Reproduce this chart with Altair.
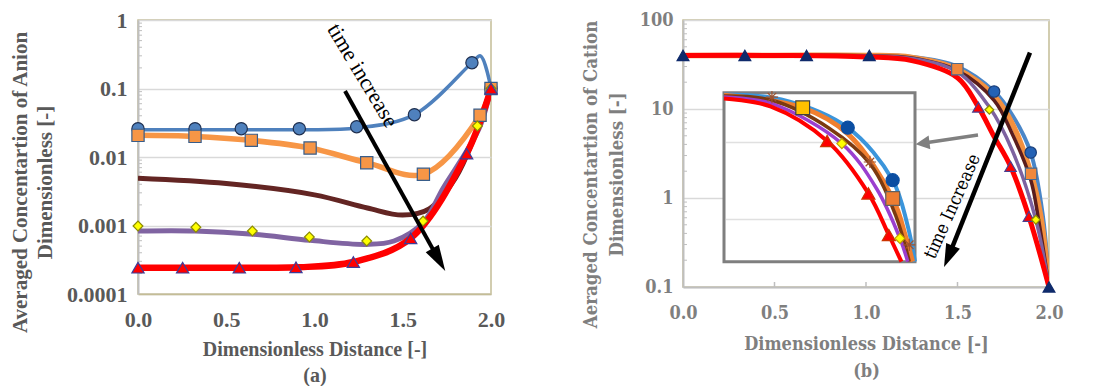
import altair as alt
import pandas as pd

# ---------------- Panel (a): anion ----------------
A_XTICKS = [0, 0.5, 1.0, 1.5, 2.0]
A_YTICKS = [0.0001, 0.001, 0.01, 0.1, 1]

A_BLUE_LINE_X = [0, 0.323, 0.585, 0.914, 1.239, 1.566, 1.892, 1.94, 2.0]
A_BLUE_LINE_Y = [0.025, 0.025, 0.025, 0.025, 0.0265, 0.0415, 0.238, 0.30, 0.1]
A_BLUE_PTS_X = [0, 0.323, 0.585, 0.914, 1.239, 1.566, 1.892, 2.0]
A_BLUE_PTS_Y = [0.0259, 0.0259, 0.0259, 0.0259, 0.0277, 0.0415, 0.238, 0.1]

A_ORANGE_X = [0, 0.323, 0.642, 0.975, 1.296, 1.617, 1.938, 2.0]
A_ORANGE_Y = [0.0207, 0.020, 0.0175, 0.0135, 0.00826, 0.00559, 0.0406, 0.1]

A_BROWN_X = [0, 0.5, 1.0, 1.3, 1.5, 1.65, 1.8, 1.9, 2.0]
A_BROWN_Y = [0.0049, 0.0041, 0.0028, 0.0018, 0.00142, 0.00175, 0.0050, 0.018, 0.1]

A_PURPLE_X = [0, 0.323, 0.655, 0.975, 1.296, 1.45, 1.615, 1.73, 1.862, 1.938, 2.0]
A_PURPLE_Y = [0.00083, 0.00083, 0.000744, 0.000607, 0.00053, 0.000594, 0.0011, 0.00356, 0.0122, 0.028, 0.1]

A_DIAMOND_X = [0, 0.328, 0.648, 0.971, 1.296, 1.615, 1.923, 2.0]
A_DIAMOND_Y = [0.000984, 0.000942, 0.00083, 0.000679, 0.000594, 0.00116, 0.0284, 0.1]

A_RED_X = [0, 0.253, 0.574, 0.895, 1.22, 1.545, 1.862, 2.0]
A_RED_Y = [0.000242, 0.000242, 0.000242, 0.000245, 0.000293, 0.00065, 0.0112, 0.1]

A_ARROW = {"x": [1.173], "y": [0.092], "x2": [1.704], "y2": [0.000316]}
A_LABEL = {"x": [1.273], "y": [0.155]}

# ---------------- Panel (b): cation ----------------
B_XTICKS = [0, 0.5, 1.0, 1.5, 2.0]
B_YTICKS = [0.1, 1, 10, 100]

B_BLUE_X = [0, 0.5, 1.0, 1.25, 1.5, 1.70, 1.8, 1.90, 1.967, 2.0]
B_BLUE_Y = [40, 40, 40, 38.5, 30, 15.7, 8.5, 3.24, 0.62, 0.1]
B_ORANGE_X = [0, 0.5, 1.0, 1.25, 1.499, 1.7, 1.8, 1.902, 1.955, 2.0]
B_ORANGE_Y = [40, 40, 40, 38, 28, 14, 6.8, 1.87, 0.62, 0.1]
B_BROWN_X = [0, 0.5, 1.0, 1.25, 1.5, 1.7, 1.8, 1.9, 1.94, 2.0]
B_BROWN_Y = [40, 40, 39.7, 37.5, 27, 12.5, 5.2, 1.6, 0.62, 0.1]
B_PURPLE_X = [0, 0.5, 1.0, 1.25, 1.5, 1.674, 1.8, 1.928, 2.0]
B_PURPLE_Y = [40, 40, 39.5, 37, 26, 10.5, 3.4, 0.57, 0.1]
B_RED_X = [0, 0.5, 1.0, 1.25, 1.5, 1.614, 1.7, 1.79, 1.89, 2.0]
B_RED_Y = [40, 40, 38.5, 35, 22.5, 10.5, 4.9, 2.26, 0.62, 0.1]

B_NAVY_TRI_X = [0, 0.338, 0.675, 1.018, 2.0]
B_NAVY_TRI_Y = [40, 40, 40, 40, 0.1]
B_SQUARE_X = [1.499, 1.902]
B_SQUARE_Y = [28, 1.87]
B_CIRCLE_X = [1.70, 1.90]
B_CIRCLE_Y = [15.7, 3.24]
B_RED_TRI_X = [1.614, 1.79, 1.89]
B_RED_TRI_Y = [10.5, 2.26, 0.62]
B_DIAMOND_X = [1.674, 1.928]
B_DIAMOND_Y = [9.8, 0.57]

B_ARROW = {"x": [1.896], "y": [43.0], "x2": [1.451], "y2": [0.220]}
B_GRAY_ARROW = {"x": [1.612], "y": [5.1], "x2": [1.309], "y2": [4.12]}
B_LABEL = {"x": [1.475], "y": [0.80]}

# inset (normalised coordinates inside the zoom box)
IN_BLUE_U = [0, 0.3, 0.648, 0.883, 0.96, 1.0]
IN_BLUE_V = [0.99, 0.96, 0.793, 0.482, 0.22, 0]
IN_ORANGE_U = [0, 0.412, 0.65, 0.883, 0.95, 0.987]
IN_ORANGE_V = [0.985, 0.911, 0.755, 0.374, 0.15, 0]
IN_BROWN_U = [0, 0.251, 0.55, 0.764, 0.90, 0.970]
IN_BROWN_V = [0.98, 0.955, 0.79, 0.58, 0.27, 0]
IN_PURPLE_U = [0, 0.25, 0.617, 0.80, 0.921, 0.962]
IN_PURPLE_V = [0.975, 0.935, 0.699, 0.43, 0.138, 0]
IN_RED_U = [0, 0.243, 0.54, 0.756, 0.863, 0.929]
IN_RED_V = [0.965, 0.919, 0.714, 0.404, 0.158, 0]
IN_GOLD_SQ = {"x": [0.412], "y": [0.911]}
IN_ORANGE_SQ = {"x": [0.883], "y": [0.374]}
IN_CIRCLES = {"x": [0.648, 0.883], "y": [0.793, 0.482]}
IN_TRIS = {"x": [0.54, 0.756, 0.863], "y": [0.714, 0.404, 0.158]}
IN_DIAMONDS = {"x": [0.617, 0.921], "y": [0.699, 0.138]}
IN_STARS = {"x": [0.251, 0.764, 0.97], "y": [0.974, 0.59, 0.1]}
IN_GRID_V = [0.25, 0.705]

FONT_A = "Liberation Serif"
FONT_B = "DejaVu Serif Condensed, DejaVu Serif"
GRAY_A = "#595959"
GRAY_B = "#7f7f7f"

ASTERISK = "M-1,0L1,0M0,-1L0,1M-0.7,-0.7L0.7,0.7M-0.7,0.7L0.7,-0.7"

A_W, A_H = 353, 274
B_W, B_H = 366, 267


def xy(xs, ys):
    return pd.DataFrame({"x": xs, "y": ys})


# ---------- panel a ----------
a_xs = alt.Scale(domain=[0, 2], nice=False, zero=False)
a_ys = alt.Scale(type="log", domain=[1e-4, 1], nice=False)
a_xa = alt.Axis(values=A_XTICKS, format=".1f", labelFlush=False, ticks=False, grid=False,
                domainColor="#c4bd97", domainWidth=1.5, labelFont=FONT_A, labelFontSize=22,
                labelFontWeight="bold", labelColor=GRAY_A, labelPadding=15,
                title=["Dimensionless Distance [-]", "(a)"], titleFont=FONT_A, titleFontSize=20,
                titleFontWeight="bold", titleColor=GRAY_A, titlePadding=9, titleLineHeight=26)
a_ya = alt.Axis(values=A_YTICKS, format="~g", ticks=False, grid=True, gridColor="#d9d9d9",
                gridWidth=1.5, domainColor="#bfbfbf", domainWidth=2, labelFont=FONT_A,
                labelFontSize=22, labelFontWeight="bold", labelColor=GRAY_A, labelPadding=11,
                title=["Averaged Concentartion of Anion", "Dimensionless [-]"], titleFont=FONT_A,
                titleFontSize=21, titleFontWeight="bold", titleColor=GRAY_A, titlePadding=11,
                titleLineHeight=25, titleY=162)


def enc(ch, xs, ys, xa, ya, xf="x", yf="y"):
    return ch.encode(x=alt.X(f"{xf}:Q", scale=xs, axis=xa), y=alt.Y(f"{yf}:Q", scale=ys, axis=ya))


def line(xs_, ys_, color, w, xs, ys, xa, ya):
    return enc(alt.Chart(xy(xs_, ys_)).mark_line(color=color, strokeWidth=w,
               interpolate="catmull-rom", clip=True), xs, ys, xa, ya)


def pts(xs_, ys_, shape, fill, stroke, size, xs, ys, xa, ya, sw=1.2):
    return enc(alt.Chart(xy(xs_, ys_)).mark_point(shape=shape, filled=True, fill=fill, stroke=stroke,
               strokeWidth=sw, size=size, opacity=1, fillOpacity=1), xs, ys, xa, ya)


A_MINOR = [k * 10.0 ** e for e in range(-4, 0) for k in range(2, 10)]

a_layers = [
    alt.Chart(pd.DataFrame({"y": A_MINOR})).mark_rule(color="#bfbfbf", strokeWidth=1).encode(
        y=alt.Y("y:Q", scale=a_ys, axis=a_ya), x=alt.value(0), x2=alt.value(4)),
    line(A_BLUE_LINE_X, A_BLUE_LINE_Y, "#4f81bd", 3.5, a_xs, a_ys, a_xa, a_ya),
    line(A_ORANGE_X, A_ORANGE_Y, "#f79646", 5.5, a_xs, a_ys, a_xa, a_ya),
    line(A_BROWN_X, A_BROWN_Y, "#632523", 5, a_xs, a_ys, a_xa, a_ya),
    line(A_PURPLE_X, A_PURPLE_Y, "#8064a2", 5, a_xs, a_ys, a_xa, a_ya),
    line(A_RED_X, A_RED_Y, "#ff0000", 6.5, a_xs, a_ys, a_xa, a_ya),
    pts(A_BLUE_PTS_X, A_BLUE_PTS_Y, "circle", "#4f81bd", "#1f2f4f", 150, a_xs, a_ys, a_xa, a_ya),
    pts(A_ORANGE_X, A_ORANGE_Y, "square", "#f79646", "#385d8a", 150, a_xs, a_ys, a_xa, a_ya),
    pts(A_DIAMOND_X, A_DIAMOND_Y, "diamond", "#ffff00", "#8c8c00", 95, a_xs, a_ys, a_xa, a_ya),
    pts(A_RED_X, A_RED_Y, "triangle-up", "#ff0000", "#3d3d99", 150, a_xs, a_ys, a_xa, a_ya),
    enc(alt.Chart(pd.DataFrame(A_ARROW)).mark_rule(color="black", strokeWidth=4),
        a_xs, a_ys, a_xa, a_ya).encode(x2="x2:Q", y2="y2:Q"),
    enc(alt.Chart(pd.DataFrame({"x": A_ARROW["x2"], "y": A_ARROW["y2"]})).mark_point(
        shape="M0,-1L0.58,1L-0.58,1Z", filled=True, fill="black", stroke="black", strokeWidth=0,
        size=676, angle=150, opacity=1), a_xs, a_ys, a_xa, a_ya),
    enc(alt.Chart(pd.DataFrame(A_LABEL)).mark_text(text="time increase", angle=59, font=FONT_A,
        fontSize=22, color="black"), a_xs, a_ys, a_xa, a_ya),
]
panel_a = alt.layer(*a_layers).properties(width=A_W, height=A_H)

# ---------- panel b ----------
b_xs = alt.Scale(domain=[0, 2], nice=False, zero=False)
b_ys = alt.Scale(type="log", domain=[0.1, 100], nice=False)
b_xa = alt.Axis(values=B_XTICKS, format=".1f", labelFlush=False, ticks=False, grid=False,
                domainColor="#bfbfbf", domainWidth=2, labelFont=FONT_B, labelFontSize=18,
                labelFontWeight="bold", labelColor=GRAY_B, labelPadding=17,
                title=["Dimensionless Distance [-]", "(b)"], titleFont=FONT_B, titleFontSize=18,
                titleFontWeight="bold", titleColor=GRAY_B, titlePadding=13, titleLineHeight=27)
b_ya = alt.Axis(values=B_YTICKS, format="~g", ticks=False, grid=True, gridColor="#d9d9d9",
                gridWidth=1.5, domainColor="#bfbfbf", domainWidth=2, labelFont=FONT_B,
                labelFontSize=18, labelFontWeight="bold", labelColor=GRAY_B, labelPadding=10,
                title=["Aeraged Concentartion of Cation", "Dimensionless [-]"], titleFont=FONT_B,
                titleFontSize=18.5, titleFontWeight="bold", titleColor=GRAY_B, titlePadding=13,
                titleLineHeight=26, titleY=154)

B_MINOR = [k * 10.0 ** e for e in range(-1, 2) for k in range(2, 10)]

b_main = [
    alt.Chart(pd.DataFrame({"y": B_MINOR})).mark_rule(color="#bfbfbf", strokeWidth=1).encode(
        y=alt.Y("y:Q", scale=b_ys, axis=b_ya), x=alt.value(0), x2=alt.value(4)),
    alt.Chart(pd.DataFrame({"x": B_XTICKS[1:4]})).mark_rule(color="#bfbfbf", strokeWidth=1.5).encode(
        x=alt.X("x:Q", scale=b_xs, axis=b_xa), y=alt.value(B_H), y2=alt.value(B_H - 5)),
    line(B_BLUE_X, B_BLUE_Y, "#4a86c8", 4, b_xs, b_ys, b_xa, b_ya),
    line(B_ORANGE_X, B_ORANGE_Y, "#f3903f", 5.5, b_xs, b_ys, b_xa, b_ya),
    line(B_BROWN_X, B_BROWN_Y, "#5a1d1d", 3.5, b_xs, b_ys, b_xa, b_ya),
    line(B_PURPLE_X, B_PURPLE_Y, "#7d62a0", 3.5, b_xs, b_ys, b_xa, b_ya),
    line(B_RED_X, B_RED_Y, "#ff0000", 5, b_xs, b_ys, b_xa, b_ya),
    pts(B_NAVY_TRI_X, B_NAVY_TRI_Y, "triangle-up", "#0f2a6b", "#0f2a6b", 140, b_xs, b_ys, b_xa, b_ya),
    pts(B_SQUARE_X, B_SQUARE_Y, "square", "#f0883c", "#4a6a8f", 130, b_xs, b_ys, b_xa, b_ya),
    pts(B_CIRCLE_X, B_CIRCLE_Y, "circle", "#2462b5", "#1a3f7a", 130, b_xs, b_ys, b_xa, b_ya),
    pts(B_RED_TRI_X, B_RED_TRI_Y, "triangle-up", "#ff0000", "#4b3f8f", 130, b_xs, b_ys, b_xa, b_ya),
    pts(B_DIAMOND_X, B_DIAMOND_Y, "diamond", "#ffff00", "#8c8c00", 75, b_xs, b_ys, b_xa, b_ya),
    enc(alt.Chart(pd.DataFrame(B_ARROW)).mark_rule(color="black", strokeWidth=4.5),
        b_xs, b_ys, b_xa, b_ya).encode(x2="x2:Q", y2="y2:Q"),
    enc(alt.Chart(pd.DataFrame({"x": B_ARROW["x2"], "y": B_ARROW["y2"]})).mark_point(
        shape="M0,-1L0.65,1L-0.65,1Z", filled=True, fill="black", stroke="black", strokeWidth=0,
        size=529, angle=203, opacity=1), b_xs, b_ys, b_xa, b_ya),
    enc(alt.Chart(pd.DataFrame(B_GRAY_ARROW)).mark_rule(color="#808080", strokeWidth=3.5),
        b_xs, b_ys, b_xa, b_ya).encode(x2="x2:Q", y2="y2:Q"),
    enc(alt.Chart(pd.DataFrame({"x": B_GRAY_ARROW["x2"], "y": B_GRAY_ARROW["y2"]})).mark_point(
        shape="M0,-1L1,1L-1,1Z", filled=True, fill="#808080", stroke="#808080", strokeWidth=0,
        size=196, angle=263, opacity=1), b_xs, b_ys, b_xa, b_ya),
    enc(alt.Chart(pd.DataFrame(B_LABEL)).mark_text(text="time Increase", angle=294, font=FONT_B,
        fontSize=18, color="black"), b_xs, b_ys, b_xa, b_ya),
]

ixs = alt.Scale(domain=[0, 1], range=[41, 232], nice=False, zero=False)
iys = alt.Scale(domain=[0, 1], range=[241.7, 72.7], nice=False, zero=False)

b_inset = [
    alt.Chart(pd.DataFrame({"x": [0], "y": [0], "x2": [1], "y2": [1]})).mark_rect(
        fill="white", stroke="#7f7f7f", strokeWidth=3).encode(
        x=alt.X("x:Q", scale=ixs, axis=None), y=alt.Y("y:Q", scale=iys, axis=None),
        x2="x2:Q", y2="y2:Q"),
    alt.Chart(pd.DataFrame({"y": IN_GRID_V})).mark_rule(color="#e0e0e0", strokeWidth=1.5).encode(
        y=alt.Y("y:Q", scale=iys, axis=None), x=alt.value(43), x2=alt.value(230)),
    line(IN_BLUE_U, IN_BLUE_V, "#3b95db", 4, ixs, iys, None, None),
    line(IN_ORANGE_U, IN_ORANGE_V, "#f07f2f", 5, ixs, iys, None, None),
    line(IN_BROWN_U, IN_BROWN_V, "#7b3a10", 3.5, ixs, iys, None, None),
    line(IN_PURPLE_U, IN_PURPLE_V, "#9b3fcf", 3.5, ixs, iys, None, None),
    line(IN_RED_U, IN_RED_V, "#ff0000", 4, ixs, iys, None, None),
    enc(alt.Chart(pd.DataFrame(IN_STARS)).mark_point(shape=ASTERISK, filled=False, stroke="#a0522d",
        strokeWidth=1.2, size=150, opacity=1), ixs, iys, None, None),
    pts(IN_GOLD_SQ["x"], IN_GOLD_SQ["y"], "square", "#ffc000", "#404040", 190, ixs, iys, None, None),
    pts(IN_ORANGE_SQ["x"], IN_ORANGE_SQ["y"], "square", "#ed7d31", "#606060", 190, ixs, iys, None, None),
    pts(IN_CIRCLES["x"], IN_CIRCLES["y"], "circle", "#0b4ea2", "#0b4ea2", 170, ixs, iys, None, None),
    pts(IN_TRIS["x"], IN_TRIS["y"], "triangle-up", "#ff0000", "#cc3300", 170, ixs, iys, None, None),
    pts(IN_DIAMONDS["x"], IN_DIAMONDS["y"], "diamond", "#ffff00", "#c0a000", 100, ixs, iys, None, None),
]

panel_b = alt.layer(alt.layer(*b_main), alt.layer(*b_inset)).resolve_scale(
    x="independent", y="independent").properties(width=B_W, height=B_H)

chart = alt.hconcat(panel_a, panel_b, spacing=74).configure_view(
    stroke="#c4bd97", strokeWidth=1.5).properties(
    padding={"left": 0, "top": 0, "right": 0, "bottom": 0}, background="white")

chart.save("out.html", embed_options={"renderer": "svg", "actions": False})
